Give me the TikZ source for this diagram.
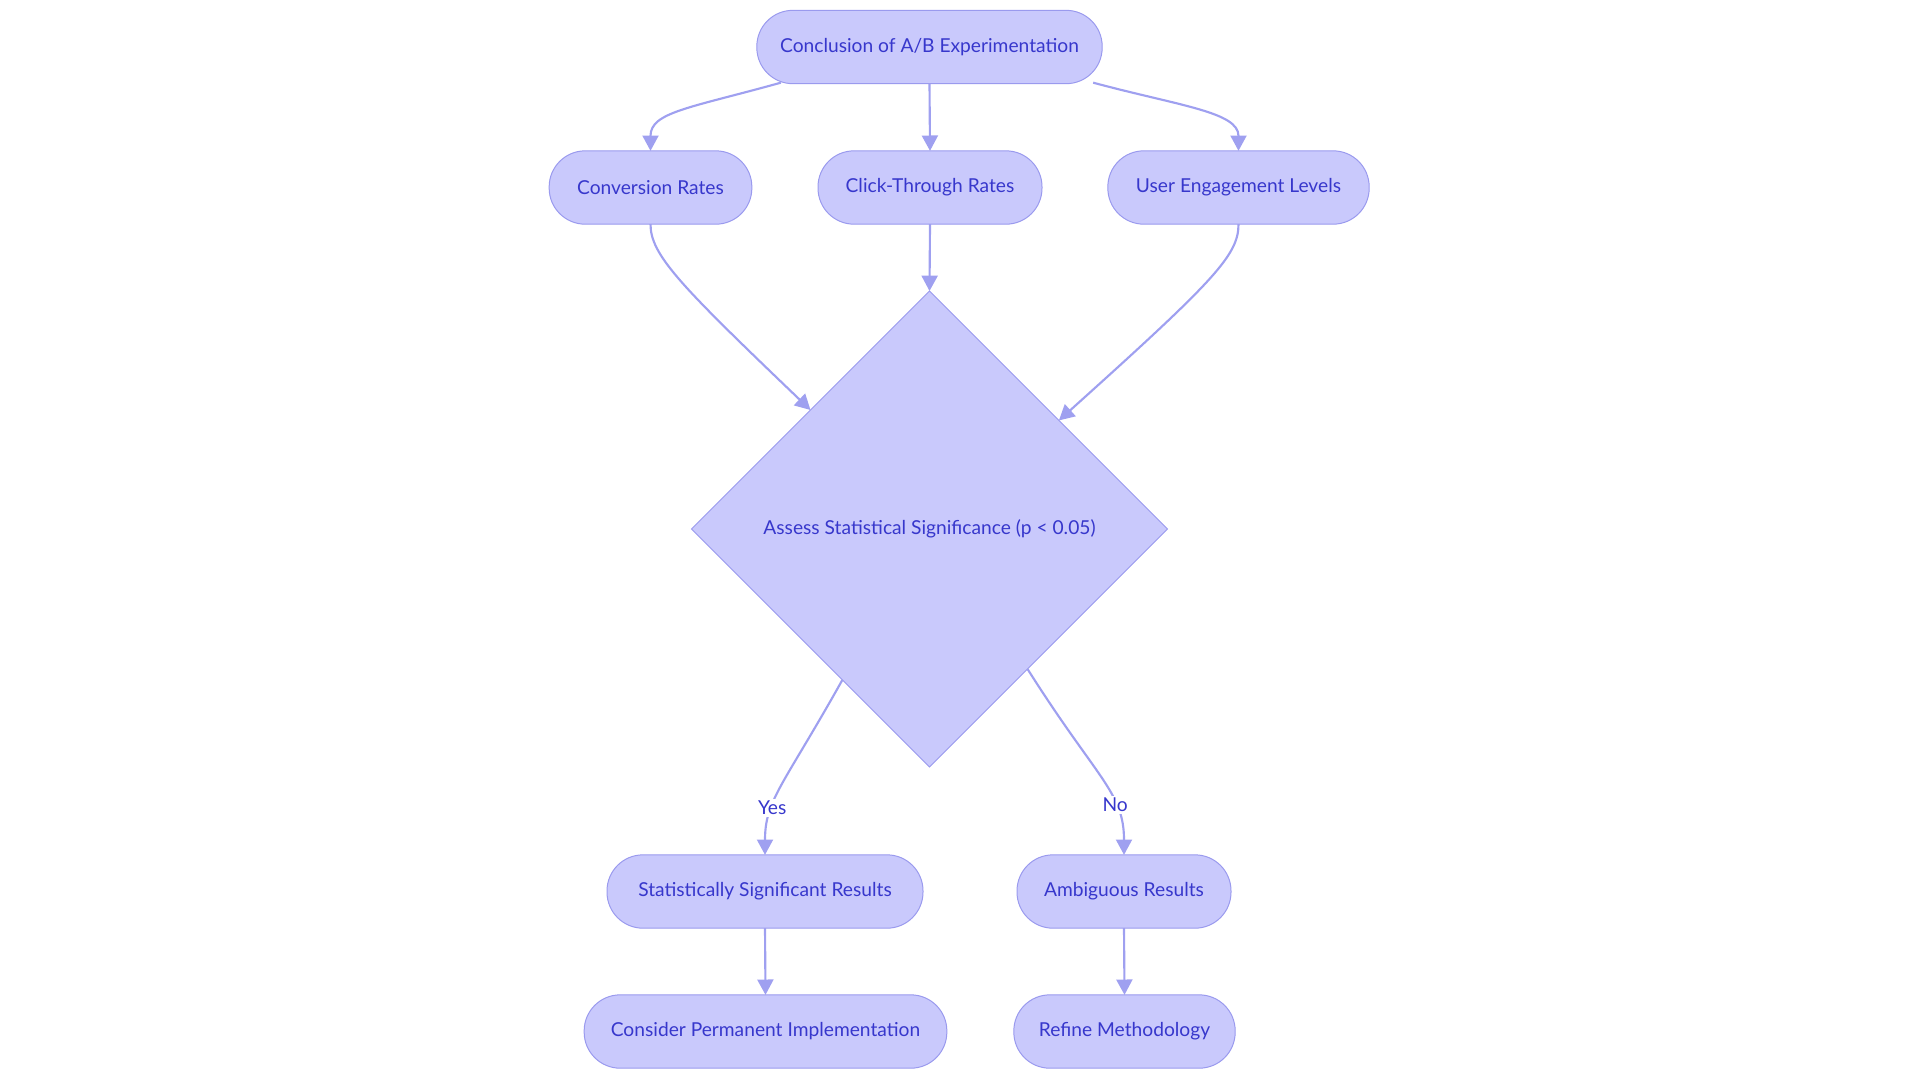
\documentclass[tikz,border=0pt]{standalone}
\usepackage{fontspec}
\setmainfont{Lato}
\usetikzlibrary{shapes.geometric,arrows.meta,calc}
\definecolor{nfill}{HTML}{C9C9FC}
\definecolor{nborder}{HTML}{9A9AEE}
\definecolor{nline}{HTML}{9FA0F0}
\definecolor{ntext}{HTML}{3737CC}
\tikzset{
  pill/.style={draw=nborder, line width=0.75pt, fill=nfill, text=ntext, rectangle, rounded corners=27pt,
    minimum height=55pt, inner sep=0pt, outer sep=0pt, font=\fontsize{14.4}{17}\selectfont},
  decide/.style={draw=nborder, line width=0.75pt, fill=nfill, text=ntext, diamond, aspect=1,
    minimum width=357pt, minimum height=357pt, inner sep=0pt, outer sep=0pt, font=\fontsize{14.4}{17}\selectfont},
  conn/.style={draw=nline, line width=1.6pt, -{Triangle[length=11.5pt,width=12pt]}},
  elabel/.style={fill=white, text=ntext, inner sep=1.5pt, font=\fontsize{14.4}{17}\selectfont}
}
\begin{document}
\begin{tikzpicture}[x=0.75pt,y=-0.75pt]
\useasboundingbox (0,0) rectangle (1920,1083);
\node[pill, minimum width=259pt] (top) at (929.5,47) {Conclusion of A/B Experimentation};
\node[pill, minimum width=152pt] (conv) at (650.5,187.5) {Conversion Rates};
\node[pill, minimum width=168pt] (click) at (930,187.5) {Click-Through Rates};
\node[pill, minimum width=196pt] (user) at (1238.5,187.5) {User Engagement Levels};
\node[decide] (dec) at (929.5,529) {Assess Statistical Significance (p < 0.05)};
\node[pill, minimum width=237pt] (sig) at (765,891.5) {Statistically Significant Results};
\node[pill, minimum width=160.5pt] (amb) at (1124,891.5) {Ambiguous Results};
\node[pill, minimum width=272pt] (perm) at (765.5,1031.5) {Consider Permanent Implementation};
\node[pill, minimum width=166pt] (ref) at (1124.5,1031.5) {Refine Methodology};

\draw[conn] ($(top.south west)+(24,-1)$) .. controls (690,108) and (650.5,112) .. (conv.north);
\draw[conn] (top.south) -- (click.north);
\draw[conn] ($(top.south east)+(-9,-1)$) .. controls (1180,106) and (1238.5,112) .. (user.north);
\draw[conn] (conv.south) .. controls (650.5,255) and (680,285) .. (dec.135.5);
\draw[conn] (click.south) -- (dec.north);
\draw[conn] (user.south) .. controls (1238.5,255) and (1215,280) .. (dec.40.5);
\draw[conn] (dec.240) .. controls (783,786) and (765,800) .. node[elabel, pos=0.66] (yes) {Yes} (sig.north);
\draw[conn] (dec.-55) .. controls (1097,779) and (1124,792) .. node[elabel, pos=0.68] (no) {No} (amb.north);
\draw[conn] (sig.south) -- (perm.north);
\draw[conn] (amb.south) -- (ref.north);
\end{tikzpicture}
\end{document}
